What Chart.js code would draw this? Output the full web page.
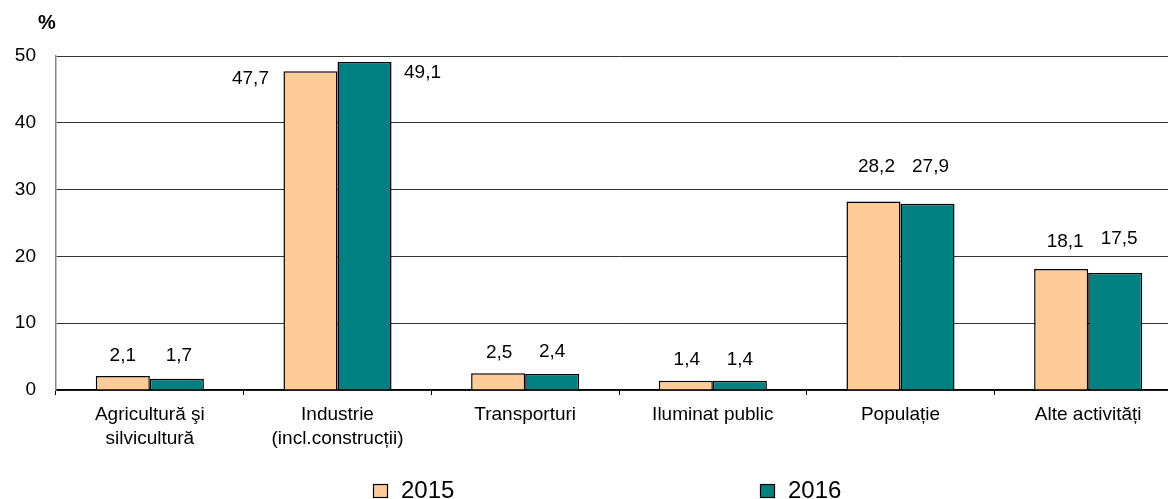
<!DOCTYPE html>
<html>
<head>
<meta charset="utf-8">
<script src="https://cdn.jsdelivr.net/npm/chart.js@4.4.1/dist/chart.umd.min.js"></script>
<style>
  html, body { margin: 0; padding: 0; background: #fff; overflow: hidden; }
  #wrap { width: 1182px; height: 499px; position: relative; }
</style>
</head>
<body>
<div id="wrap"><canvas id="c" width="1182" height="499"></canvas></div>
<script>
// ---- data ----
const categories = [
  ["Agricultură şi", "silvicultură"],
  ["Industrie", "(incl.construcții)"],
  "Transporturi",
  "Iluminat public",
  "Populație",
  "Alte activități"
];
const seriesNames = ["2015", "2016"];
const values2015 = [2.1, 47.7, 2.5, 1.4, 28.2, 18.1];
const values2016 = [1.7, 49.1, 2.4, 1.4, 27.9, 17.5];
const yTicks = [0, 10, 20, 30, 40, 50];

// ---- styles ----
const FONT = "'Liberation Sans', Arial, sans-serif";
const colors = ["#FFCC99", "#008080"];
// label offsets (px) relative to the top-centre of each bar
const labelOffsets = [
  [[0, -20], [-60, 7], [1, -21], [1, -21], [3, -35], [4, -27]],
  [[2, -23], [58, 11], [0, -22], [0, -21], [3, -37], [4, -34]]
];
const fmt = v => v.toFixed(1).replace('.', ',');

const dataLabels = {
  id: 'dataLabels',
  afterDatasetsDraw(chart) {
    const ctx = chart.ctx;
    ctx.save();
    ctx.font = "19px " + FONT;
    ctx.fillStyle = "#000";
    ctx.textAlign = "center";
    ctx.textBaseline = "middle";
    chart.data.datasets.forEach((ds, di) => {
      const meta = chart.getDatasetMeta(di);
      meta.data.forEach((bar, i) => {
        const off = labelOffsets[di][i];
        ctx.fillText(fmt(ds.data[i]), bar.x + off[0], bar.y + off[1]);
      });
    });
    ctx.restore();
  }
};

const extras = {
  id: 'extras',
  afterDraw(chart) {
    const ctx = chart.ctx;
    ctx.save();
    // unit label
    ctx.font = "bold 20px " + FONT;
    ctx.fillStyle = "#000";
    ctx.textAlign = "center";
    ctx.textBaseline = "middle";
    ctx.fillText("%", 47, 23);
    // legend
    const boxes = [373, 760];
    ctx.font = "24px " + FONT;
    ctx.textAlign = "left";
    chart.data.datasets.forEach((ds, di) => {
      const x = boxes[di];
      ctx.fillStyle = ds.backgroundColor;
      ctx.fillRect(x, 484, 15, 14);
      ctx.strokeStyle = "#000";
      ctx.lineWidth = 1.2;
      ctx.strokeRect(x + 0.5, 484.5, 14, 13);
      ctx.fillStyle = "#000";
      ctx.fillText(ds.label, x + 28, 491);
    });
    ctx.restore();
  }
};

new Chart(document.getElementById('c'), {
  type: 'bar',
  data: {
    labels: categories,
    datasets: [
      { label: seriesNames[0], data: values2015, backgroundColor: colors[0], borderColor: "#000", borderWidth: 1.5 },
      { label: seriesNames[1], data: values2016, backgroundColor: colors[1], borderColor: "#000", borderWidth: 1.5 }
    ]
  },
  options: {
    responsive: false,
    animation: false,
    categoryPercentage: 0.576,
    barPercentage: 1.0,
    layout: { padding: { top: 56, left: 0, right: 0, bottom: 0 } },
    plugins: { legend: { display: false }, tooltip: { enabled: false } },
    scales: {
      x: {
        grid: { drawOnChartArea: false, drawTicks: true, tickLength: 5, color: "#000", offset: true },
        border: { color: "#000", width: 1.5 },
        ticks: { font: { family: FONT, size: 19, lineHeight: 1.3 }, color: "#000", padding: 7, maxRotation: 0, autoSkip: false },
        afterFit(scale) { scale.height = 109; }
      },
      y: {
        min: 0, max: 50,
        afterBuildTicks(scale) { scale.ticks = yTicks.map(v => ({ value: v })); },
        grid: { color: "#333", lineWidth: 1, drawTicks: false },
        border: { color: "#888", width: 1.5 },
        ticks: { font: { family: FONT, size: 19 }, color: "#000", padding: 20 },
        afterFit(scale) { scale.width = 56; }
      }
    }
  },
  plugins: [dataLabels, extras]
});
</script>
</body>
</html>
